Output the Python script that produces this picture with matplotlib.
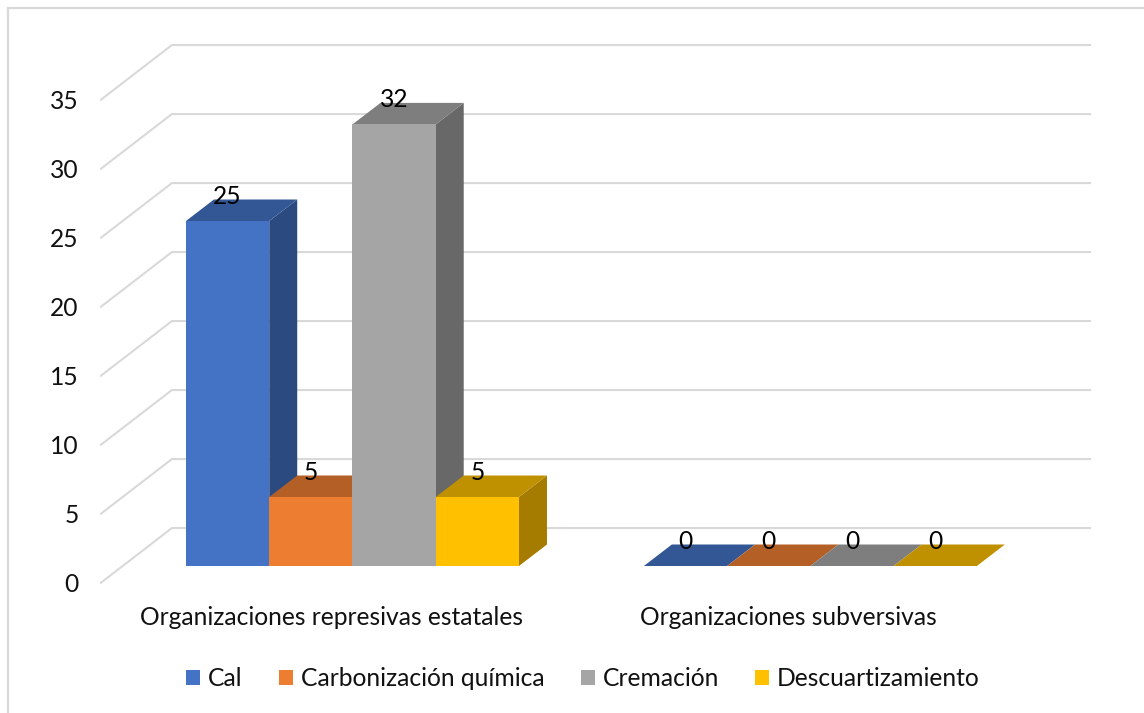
#!/usr/bin/env python3
"""Pseudo-3D clustered column chart, drawn on one flat axes."""

import matplotlib
matplotlib.use("Agg")
import matplotlib.pyplot as plt
from matplotlib.lines import Line2D
from matplotlib.patches import Patch, Polygon

categories = ["Organizaciones represivas estatales", "Organizaciones subversivas"]
series_names = ["Cal", "Carbonización química", "Cremación", "Descuartizamiento"]
series_values = [
    [25, 0],
    [5, 0],
    [32, 0],
    [5, 0],
]
y_ticks = [0, 5, 10, 15, 20, 25, 30, 35]

front_colors = ["#4472C4", "#ED7D31", "#A5A5A5", "#FFC000"]
top_colors = ["#335794", "#B45F26", "#7E7E7E", "#BF9000"]
side_colors = ["#2B4A80", "#A35118", "#686868", "#A67C00"]
grid_color = "#D9D9D9"
text_color = "#111111"

W, H = 1144, 713
PX_PER_BAR = 83.25
PX_PER_UNIT = 13.8
CAT_STEP = 5.5  # bar widths between categories
BAR_START = -1.742  # first bar's left edge relative to the category tick
DEPTH_X = 28 / PX_PER_BAR
DEPTH_Y = 21.5 / PX_PER_UNIT
WALL_LEFT = -2.763
WALL_BACK_LEFT = -1.911
WALL_RIGHT = 9.117
WALL_FRONT_Y = -1.21
WALL_BACK_Y = 2.75
AX_L, AX_R, AX_T, AX_B = 100, 1100, 30, 592
FONT_SIZE = 17.7

plt.rcParams["font.family"] = ["Lato", "DejaVu Sans"]

fig = plt.figure(figsize=(W / 100, H / 100), dpi=100, facecolor="white")
ax = fig.add_axes([AX_L / W, 1 - AX_B / H, (AX_R - AX_L) / W, (AX_B - AX_T) / H])
ax.set_xlim((AX_L - 331) / PX_PER_BAR, (AX_R - 331) / PX_PER_BAR)
ax.set_ylim((566 - AX_B) / PX_PER_UNIT, (566 - AX_T) / PX_PER_UNIT)
for spine in ax.spines.values():
    spine.set_visible(False)

# chart frame, only top and left edges show in the crop
fig.add_artist(Line2D([8 / W, 8 / W], [0, 1 - 8 / H], color=grid_color, lw=1.6))
fig.add_artist(Line2D([8 / W, 1], [1 - 8 / H, 1 - 8 / H], color=grid_color, lw=1.6))

# walls
for v in y_ticks:
    ax.plot(
        [WALL_LEFT, WALL_BACK_LEFT, WALL_RIGHT],
        [v + WALL_FRONT_Y, v + WALL_BACK_Y, v + WALL_BACK_Y],
        color=grid_color,
        lw=1.5,
        zorder=1,
        solid_joinstyle="miter",
    )

# columns, back to front in series order
for j, values in enumerate(series_values):
    z = 2 + j
    for i, v in enumerate(values):
        x0 = i * CAT_STEP + BAR_START + j
        x1 = x0 + 1
        if v > 0:
            ax.bar(x0, v, width=1, align="edge", color=front_colors[j], zorder=z + 0.2, linewidth=0)
            side = [(x1, 0), (x1 + DEPTH_X, DEPTH_Y), (x1 + DEPTH_X, v + DEPTH_Y), (x1, v)]
            ax.add_patch(Polygon(side, closed=True, fc=side_colors[j], ec="none", zorder=z))
        top = [(x0, v), (x1, v), (x1 + DEPTH_X, v + DEPTH_Y), (x0 + DEPTH_X, v + DEPTH_Y)]
        ax.add_patch(Polygon(top, closed=True, fc=top_colors[j], ec="none", zorder=z + 0.1))

# data labels above everything
for j, values in enumerate(series_values):
    for i, v in enumerate(values):
        ax.text(
            i * CAT_STEP + BAR_START + j + 0.5,
            v + 1.8,
            str(v),
            ha="center",
            va="center",
            fontsize=FONT_SIZE,
            color="black",
            zorder=20,
        )

ax.set_yticks([v + WALL_FRONT_Y + 0.05 for v in y_ticks], [str(v) for v in y_ticks])
ax.set_xticks([i * CAT_STEP for i in range(len(categories))], categories)
ax.tick_params(axis="y", length=0, pad=15.5, labelsize=FONT_SIZE, labelcolor=text_color)
ax.tick_params(axis="x", length=0, pad=10, labelsize=FONT_SIZE, labelcolor=text_color)

handles = [Patch(fc=c, ec="none") for c in front_colors]
ax.legend(
    handles,
    series_names,
    loc="center",
    bbox_to_anchor=(583 / W, 1 - 678.5 / H),
    bbox_transform=fig.transFigure,
    ncols=4,
    frameon=False,
    fontsize=FONT_SIZE,
    labelcolor=text_color,
    handlelength=0.57,
    handleheight=0.57,
    handletextpad=0.33,
    columnspacing=1.46,
)

fig.savefig("out.png", dpi=100, facecolor="white")
plt.close(fig)
